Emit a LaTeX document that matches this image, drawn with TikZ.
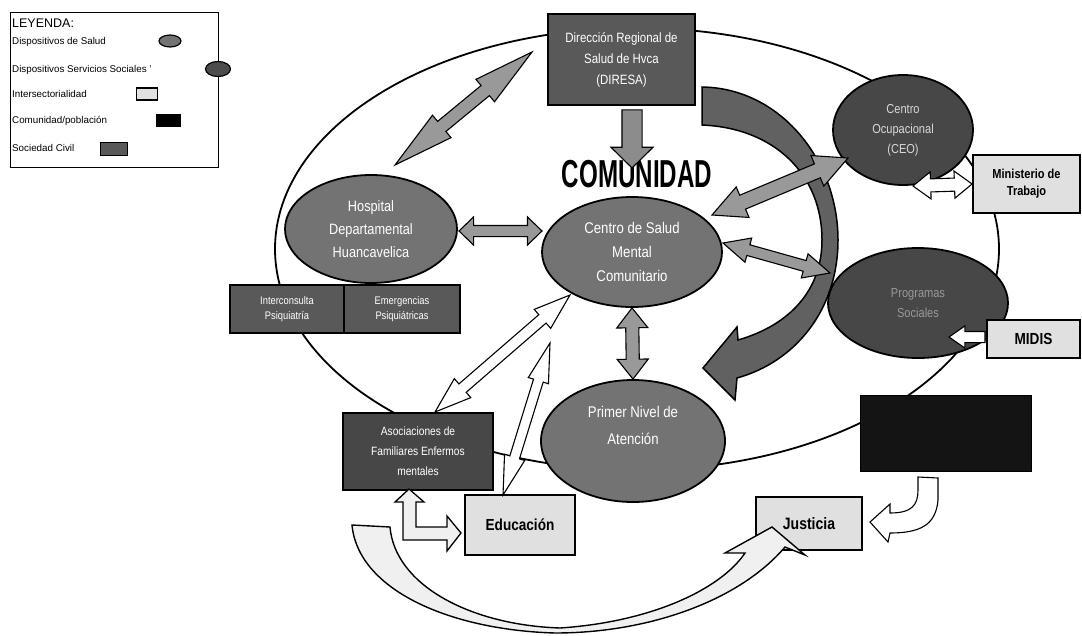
\documentclass[tikz,border=0pt]{standalone}
\usepackage{fontspec}
\setmainfont{Liberation Sans}
\newfontfamily\cond[FakeStretch=0.85]{Liberation Sans}
\newfontfamily\comfont[FakeStretch=0.62]{Liberation Sans}
\usetikzlibrary{shapes.geometric,shapes.arrows,calc}
\newcommand\darr[4]{%
  \path let \p1=(#2), \p2=(#3), \n1={atan2(\y2-\y1,\x2-\x1)}, \n2={veclen(\x2-\x1,\y2-\y1)} in
    node[#4, rotate=\n1, minimum height=\n2] (#1) at ($(\p1)!0.5!(\p2)$) {};%
}
\tikzset{
  dblar/.style={double arrow, draw=black, line width=1.1pt, inner xsep=0pt, minimum width=0pt},
  sglar/.style={single arrow, draw=black, line width=1.1pt, inner xsep=0pt, minimum width=0pt},
  dkell/.style={ellipse, draw=black, line width=1.8pt, fill=black!55, text=white, align=center, inner sep=0pt},
  rtell/.style={ellipse, draw=black, line width=1.8pt, fill=black!72, text=black!40, align=center, inner sep=0pt},
  dkbox/.style={rectangle, draw=black, line width=1.8pt, fill=black!65, text=white, align=center, inner sep=0pt},
  ltbox/.style={rectangle, draw=black, line width=1.8pt, fill=black!12, text=black, align=center, inner sep=0pt},
  legtxt/.style={anchor=west, inner sep=0pt, font=\fontsize{9.8}{11}\selectfont},
}
\begin{document}
\begin{tikzpicture}[x=1pt,y=-1pt]
\useasboundingbox (0,0) rectangle (1082,635);

% legend
\node[draw=black, line width=1pt, minimum width=208, minimum height=155, anchor=north west, inner sep=0pt] (leg) at (10,12) {};
\node[legtxt, font=\fontsize{12.5}{14}\selectfont] (l0) at (12,23) {LEYENDA:};
\node[legtxt] (l1) at (12,42) {Dispositivos de Salud};
\node[legtxt] (l2) at (12,70) {Dispositivos Servicios Sociales '};
\node[legtxt] (l3) at (12,94) {Intersectorialidad};
\node[legtxt] (l4) at (12,121) {Comunidad/población};
\node[legtxt] (l5) at (12,148) {Sociedad Civil};
\node[ellipse, draw=black, line width=1.2pt, fill=black!55, minimum width=22, minimum height=12, inner sep=0pt] (li1) at (170,41) {};
\node[ellipse, draw=black, line width=1.2pt, fill=black!70, minimum width=25, minimum height=15, inner sep=0pt] (li2) at (218,69) {};
\node[rectangle, draw=black, line width=1.2pt, fill=black!12, minimum width=21, minimum height=12, inner sep=0pt] (li3) at (147,94) {};
\node[rectangle, fill=black, minimum width=25, minimum height=13, inner sep=0pt] (li4) at (168,120) {};
\node[rectangle, draw=black, line width=1pt, fill=black!65, minimum width=27, minimum height=13, inner sep=0pt] (li5) at (114,149) {};

% big ellipse
\draw[line width=1.8pt] (637,249) ellipse [x radius=362, y radius=221];

% big dark curved arrow
\draw[line width=1.5pt, fill=black!62] (702,87) .. controls (780,88) and (838,160) .. (838,240) .. controls (838,310) and (795,362) .. (737,378) -- (735,400) -- (703,368) -- (737,327) -- (738,340) .. controls (790,325) and (822,290) .. (822,240) .. controls (822,175) and (775,128) .. (702,125) -- cycle;

% main nodes
\node[dkbox, minimum width=147, minimum height=91, font=\cond\fontsize{13.5}{21}\selectfont] (diresa) at (621.5,59.5) {Dirección Regional de\\Salud de Hvca\\(DIRESA)};
\node[inner sep=0pt, font=\comfont\bfseries\fontsize{39}{40}\selectfont] (comu) at (637,174) {COMUNIDAD};
\node[dkell, minimum width=180, minimum height=110, font=\cond\fontsize{15.5}{24}\selectfont] (csmc) at (632,252) {Centro de Salud\\Mental\\Comunitario};
\node[dkell, minimum width=184, minimum height=122, font=\cond\fontsize{15.5}{27}\selectfont] (primer) at (633,441) {Primer Nivel de\\Atención\\[4pt]};
\node[dkell, minimum width=172, minimum height=108, font=\cond\fontsize{15}{23}\selectfont] (hosp) at (371,229) {Hospital\\Departamental\\Huancavelica};
\node[dkbox, minimum width=114, minimum height=48, font=\cond\fontsize{11}{15}\selectfont] (inter) at (287,309) {Interconsulta\\Psiquiatría};
\node[dkbox, minimum width=116, minimum height=48, font=\cond\fontsize{11}{15}\selectfont] (emer) at (402,309) {Emergencias\\Psiquiátricas};
\node[rtell, text=black!15, minimum width=140, minimum height=110, font=\cond\fontsize{13}{20}\selectfont] (cent) at (903,130) {Centro\\Ocupacional\\(CEO)};
\node[rtell, minimum width=180, minimum height=110, font=\cond\fontsize{13}{20}\selectfont] (prog) at (918,303) {Programas\\Sociales};
\node[ltbox, minimum width=107, minimum height=58, font=\cond\bfseries\fontsize{13}{17}\selectfont] (mint) at (1026.5,184) {Ministerio de\\Trabajo};
\node[ltbox, minimum width=93, minimum height=38, font=\cond\bfseries\fontsize{16}{18}\selectfont] (midis) at (1033.5,339) {MIDIS};
\node[dkbox, fill=black!72, minimum width=150, minimum height=77, font=\cond\fontsize{12}{20}\selectfont] (asoc) at (418,451.5) {Asociaciones de\\Familiares Enfermos\\mentales};
\node[ltbox, minimum width=110, minimum height=60, font=\cond\bfseries\fontsize{16}{18}\selectfont] (educ) at (520,525) {Educación};
\node[ltbox, minimum width=106, minimum height=53, font=\cond\bfseries\fontsize{16.5}{18}\selectfont] (just) at (809,523.5) {Justicia};
\node[rectangle, draw=black, line width=1pt, fill=black!92, minimum width=171, minimum height=76, inner sep=0pt] (blk) at (945.5,433) {};

% arrows
\node[sglar, fill=black!45, inner ysep=9.5pt, single arrow head extend=11pt, single arrow tip angle=91, minimum height=58, rotate=-90] (ddown) at (632,134) {};
\coordinate (tl1) at (395,165);
\coordinate (tl2) at (532,52);
\darr{dtl}{tl1}{tl2}{dblar, fill=black!40, inner ysep=6pt, double arrow head extend=8pt, double arrow tip angle=27}
\coordinate (hc1) at (459,231);
\coordinate (hc2) at (542,231);
\darr{dhc}{hc1}{hc2}{dblar, fill=black!40, inner ysep=5pt, double arrow head extend=8.5pt, double arrow tip angle=88}
\darr{dcp}{csmc.south}{primer.north}{dblar, fill=black!40, inner ysep=6pt, double arrow head extend=9pt, double arrow tip angle=76}
\coordinate (r1a) at (712,215);
\coordinate (r1b) at (848,158);
\darr{dcr1}{r1a}{r1b}{dblar, fill=black!40, inner ysep=7pt, double arrow head extend=9pt, double arrow tip angle=53}
\coordinate (r2a) at (723,243);
\coordinate (r2b) at (830,273);
\darr{dcr2}{r2a}{r2b}{dblar, fill=black!40, inner ysep=5pt, double arrow head extend=7pt, double arrow tip angle=51}
\coordinate (wa1) at (435,412);
\coordinate (wa2) at (570,295);
\darr{dwa}{wa1}{wa2}{dblar, fill=white, inner ysep=5pt, double arrow head extend=7pt, double arrow tip angle=38}
\coordinate (wb1) at (503,495);
\coordinate (wb2) at (550,343);
\darr{dwb}{wb1}{wb2}{dblar, fill=white, inner ysep=4.5pt, double arrow head extend=5.5pt, double arrow tip angle=30}
\coordinate (mt1) at (913,186);
\darr{dmt}{mt1}{mint.west}{dblar, fill=white, inner ysep=6pt, double arrow head extend=7pt, double arrow tip angle=75}
\coordinate (md1) at (953,337);
\coordinate (md2) at (989,337);
\darr{dmd}{md2}{md1}{sglar, fill=white, inner ysep=5pt, single arrow head extend=5.5pt, single arrow tip angle=70}

% L-shaped arrow Asociaciones - Educacion
\draw[line width=1.3pt, fill=black!6] (409,489) -- (424,502) -- (416,502) -- (416,527) -- (447,527) -- (447,516) -- (461,533) -- (447,551) -- (447,540) -- (403,540) -- (403,502) -- (395,502) -- cycle;

% bottom big curved arrow to Justicia
\draw[line width=1.4pt, fill=black!6] (352,525) .. controls (358,590) and (450,630) .. (555,633) .. controls (650,633) and (740,600) .. (785,547) -- (805,555) -- (772,527) -- (725,553) -- (745,553) .. controls (720,590) and (650,622) .. (560,628) .. controls (470,625) and (395,585) .. (390,527) -- cycle;

% hook arrow black box -> Justicia
\draw[line width=1.1pt, fill=white] (918,477) -- (938,478) -- (938,500) .. controls (936,525) and (920,533) .. (890,533) -- (888,542) -- (870,522) -- (890,504) -- (890,513) .. controls (912,513) and (918,505) .. (918,490) -- cycle;
\end{tikzpicture}
\end{document}
